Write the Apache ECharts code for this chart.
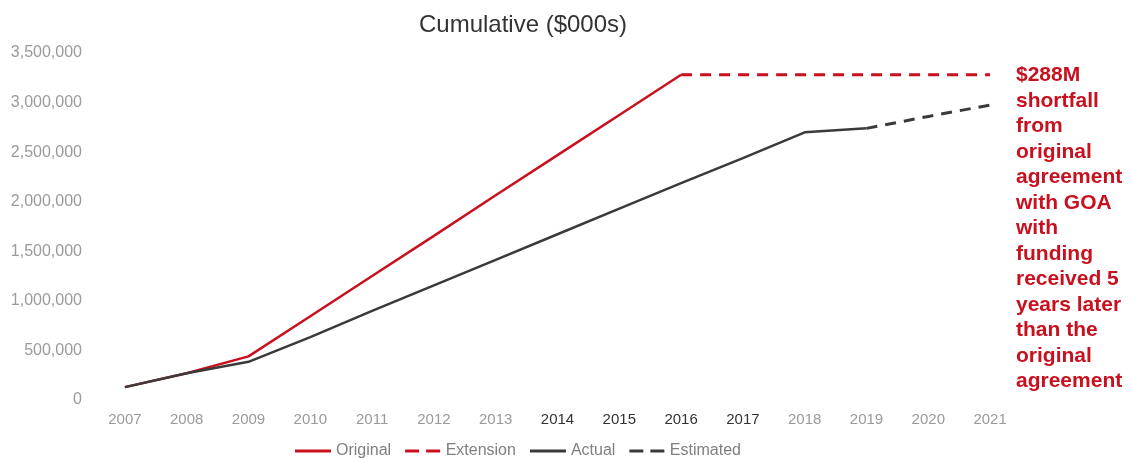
<!DOCTYPE html>
<html>
<head>
<meta charset="utf-8">
<script src="https://cdn.jsdelivr.net/npm/echarts@6/dist/echarts.min.js"></script>
<style>
  html, body { margin: 0; padding: 0; background: #fff; }
  #chart { width: 1131px; height: 458px; }
</style>
</head>
<body>
<div id="chart"></div>
<script>
// Years on the horizontal axis
const years = ['2007','2008','2009','2010','2011','2012','2013','2014','2015','2016','2017','2018','2019','2020','2021'];

// Cumulative funding, $000s
const original  = [130000, 270000, 440000, 845000, 1250000, 1655000, 2065000, 2470000, 2875000, 3280000, null, null, null, null, null];
const extension = [null, null, null, null, null, null, null, null, null, 3280000, 3280000, 3280000, 3280000, 3280000, 3280000];
const actual    = [130000, 270000, 385000, 635000, 898000, 1156000, 1414000, 1672000, 1930000, 2188000, 2440000, 2700000, 2740000, null, null];
const estimated = [null, null, null, null, null, null, null, null, null, null, null, null, 2740000, 2860000, 2975000];

// Side note text
const noteLines = ['$288M', 'shortfall', 'from', 'original', 'agreement', 'with GOA', 'with', 'funding', 'received 5', 'years later', 'than the', 'original', 'agreement'];

const RED = '#c8101e';
const DARK = '#3a3a3a';
const FONT = '"Liberation Sans", Arial, sans-serif';

// Legend swatches: a solid bar and a two-dash bar
const SOLID_ICON = 'path://M0,0H36V3H0Z';
const DASH_ICON = 'path://M0,0H14V3H0Z M21,0H35V3H21Z';

const chart = echarts.init(document.getElementById('chart'));

chart.setOption({
  animation: false,
  backgroundColor: '#ffffff',
  title: {
    text: 'Cumulative ($000s)',
    left: 518,
    textAlign: 'center',
    top: 8,
    textStyle: { fontFamily: FONT, fontSize: 24, fontWeight: 'normal', color: '#333' }
  },
  legend: {
    top: 438,
    left: 290,
    itemWidth: 36,
    itemHeight: 3,
    itemGap: 14,
    textStyle: { fontFamily: FONT, fontSize: 16, color: '#808080' },
    data: [
      { name: 'Original', icon: SOLID_ICON },
      { name: 'Extension', icon: DASH_ICON },
      { name: 'Actual', icon: SOLID_ICON },
      { name: 'Estimated', icon: DASH_ICON }
    ]
  },
  grid: { left: 94, right: 110, top: 53, bottom: 58 },
  xAxis: {
    type: 'category',
    data: years,
    boundaryGap: true,
    axisLine: { show: false },
    axisTick: { show: false },
    axisLabel: {
      margin: 12,
      fontFamily: FONT,
      fontSize: 15,
      color: function (v) {
        return (+v >= 2014 && +v <= 2017) ? '#333' : '#9a9a9a';
      }
    }
  },
  yAxis: {
    type: 'value',
    min: 0,
    max: 3500000,
    interval: 500000,
    axisLine: { show: false },
    axisTick: { show: false },
    splitLine: { show: false },
    axisLabel: {
      margin: 12,
      fontFamily: FONT,
      fontSize: 16,
      color: '#9a9a9a',
      formatter: function (v) { return v.toLocaleString('en-US'); }
    }
  },
  series: [
    {
      name: 'Original', type: 'line', data: original, symbol: 'none',
      itemStyle: { color: RED },
      lineStyle: { color: RED, width: 2.5 }
    },
    {
      name: 'Extension', type: 'line', data: extension, symbol: 'none',
      itemStyle: { color: RED },
      lineStyle: { color: RED, width: 3, type: [11, 8] }
    },
    {
      name: 'Actual', type: 'line', data: actual, symbol: 'none',
      itemStyle: { color: DARK },
      lineStyle: { color: DARK, width: 2.5 }
    },
    {
      name: 'Estimated', type: 'line', data: estimated, symbol: 'none',
      itemStyle: { color: DARK },
      lineStyle: { color: DARK, width: 3, type: [11, 8] }
    }
  ],
  graphic: noteLines.map(function (line, i) {
    return {
      type: 'text',
      left: 1016,
      top: 65 + i * 25.5,
      style: {
        text: line,
        fill: RED,
        font: 'bold 21px ' + FONT
      }
    };
  })
});
</script>
</body>
</html>
